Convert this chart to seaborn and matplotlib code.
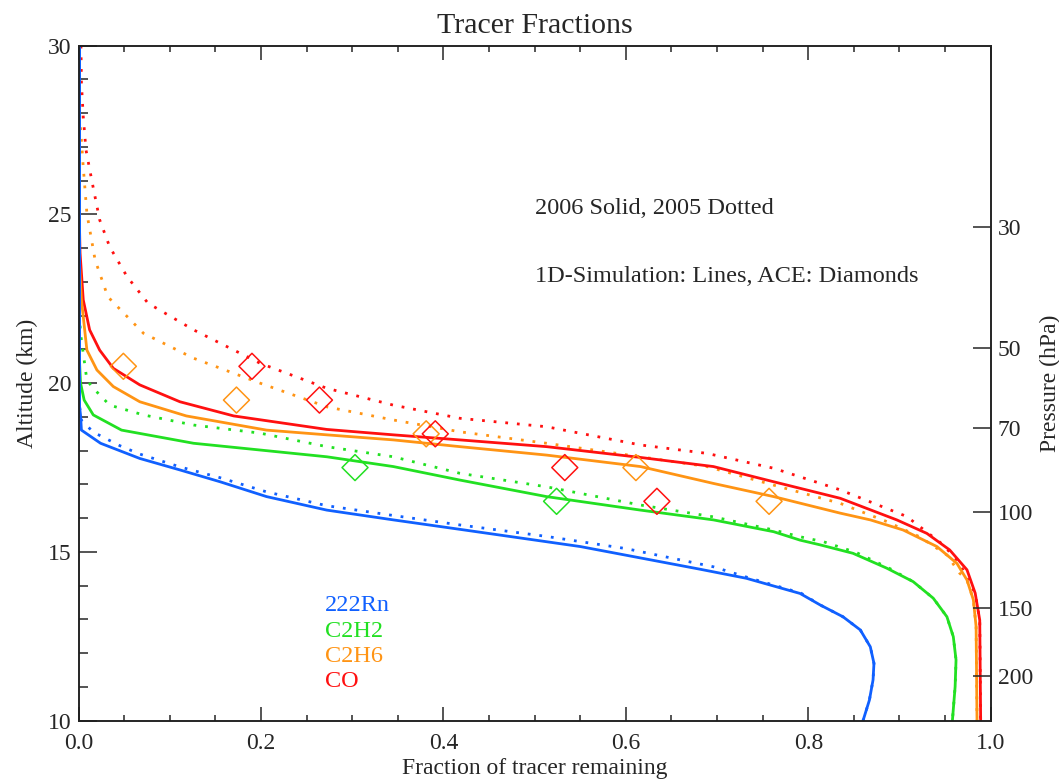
import numpy as np
import pandas as pd
import matplotlib
matplotlib.use("Agg")
import matplotlib.pyplot as plt
import seaborn as sns
from matplotlib.ticker import MultipleLocator

# ---- data (altitude in km, fraction remaining) ----
rn_2006_alt = [30.0, 19.3, 19.06, 18.61, 18.22, 17.77, 17.43, 17.08, 16.64, 16.24, 15.95,
               15.67, 15.16, 14.49, 14.22, 13.77, 13.43, 13.08, 12.69, 12.19, 11.70, 11.21,
               10.61, 10.0]
rn_2006_frac = [0.001, 0.001, 0.002, 0.003, 0.024, 0.067, 0.111, 0.155, 0.206, 0.272, 0.345,
                0.418, 0.550, 0.681, 0.732, 0.791, 0.813, 0.838, 0.857, 0.868, 0.872, 0.871,
                0.867, 0.860]
rn_2005_alt = [30.0, 19.3, 18.9, 18.55, 18.15, 17.9, 17.52, 17.2, 16.78, 16.37, 16.08,
               15.80, 15.46, 15.1, 14.56, 14.24, 13.78, 13.43, 13.08, 12.69, 12.19, 11.70,
               11.21, 10.61, 10.0]
rn_2005_frac = [0.001, 0.001, 0.003, 0.016, 0.045, 0.067, 0.111, 0.155, 0.206, 0.272, 0.345,
                0.418, 0.513, 0.600, 0.696, 0.734, 0.792, 0.813, 0.838, 0.857, 0.868, 0.872,
                0.871, 0.867, 0.860]

c2h2_2006_alt = [30.0, 20.6, 20.01, 19.50, 19.06, 18.61, 18.22, 18.02, 17.82, 17.53, 17.13,
                 16.64, 16.24, 15.95, 15.60, 15.35, 15.21, 14.96, 14.52, 14.12, 13.63, 13.08,
                 12.49, 11.80, 11.01, 10.0]
c2h2_2006_frac = [0.001, 0.001, 0.002, 0.006, 0.016, 0.047, 0.126, 0.199, 0.272, 0.345, 0.418,
                  0.513, 0.616, 0.696, 0.762, 0.791, 0.813, 0.849, 0.886, 0.915, 0.937, 0.952,
                  0.959, 0.962, 0.961, 0.958]
c2h2_2005_alt = [30.0, 22.0, 21.48, 20.09, 19.85, 19.35, 19.06, 18.76, 18.52, 18.12, 17.82,
                 17.33, 16.93, 16.39, 16.04, 15.65, 15.45, 15.30, 14.98, 14.50, 14.12, 13.63,
                 13.08, 12.49, 11.80, 11.01, 10.0]
c2h2_2005_frac = [0.001, 0.001, 0.002, 0.009, 0.016, 0.034, 0.071, 0.126, 0.199, 0.272, 0.345,
                  0.418, 0.513, 0.616, 0.696, 0.762, 0.791, 0.817, 0.853, 0.890, 0.915, 0.937,
                  0.952, 0.959, 0.962, 0.961, 0.958]

c2h6_2006_alt = [30.0, 23.5, 22.47, 20.98, 20.39, 19.90, 19.45, 19.03, 18.61, 18.47, 18.32,
                 18.12, 17.87, 17.53, 17.03, 16.64, 16.15, 15.95, 15.65, 15.16, 14.66, 14.17,
                 13.58, 12.79, 10.0]
c2h6_2006_frac = [0.001, 0.001, 0.003, 0.009, 0.020, 0.038, 0.067, 0.118, 0.206, 0.272, 0.345,
                  0.418, 0.513, 0.616, 0.696, 0.762, 0.835, 0.868, 0.904, 0.941, 0.963, 0.974,
                  0.981, 0.984, 0.985]
c2h6_2005_alt = [30.0, 29.0, 28.0, 26.41, 25.03, 23.65, 22.56, 21.48, 20.74, 20.0, 19.30,
                 18.91, 18.56, 18.22, 17.82, 17.53, 16.98, 16.44, 15.90, 15.45, 14.91, 14.37,
                 14.17, 13.58, 12.79, 10.0]
c2h6_2005_frac = [0.0, 0.0005, 0.001, 0.005, 0.009, 0.018, 0.032, 0.071, 0.126, 0.199, 0.272,
                  0.345, 0.418, 0.513, 0.616, 0.689, 0.762, 0.835, 0.886, 0.922, 0.952, 0.966,
                  0.974, 0.981, 0.984, 0.985]

co_2006_alt = [30.0, 24.5, 23.86, 22.47, 21.58, 20.98, 20.44, 19.95, 19.45, 19.03, 18.63,
               18.47, 18.32, 18.12, 17.80, 17.53, 17.08, 16.59, 15.95, 15.55, 15.06, 14.47,
               13.78, 12.98, 10.0]
co_2006_frac = [0.001, 0.001, 0.0015, 0.005, 0.012, 0.023, 0.038, 0.067, 0.111, 0.170, 0.272,
                0.345, 0.418, 0.513, 0.616, 0.696, 0.762, 0.835, 0.897, 0.930, 0.955, 0.974,
                0.983, 0.988, 0.989]
co_2005_alt = [30.0, 28.89, 27.90, 26.91, 25.92, 24.84, 24.04, 23.16, 22.37, 21.58, 20.59,
               19.85, 19.35, 18.96, 18.71, 18.17, 17.92, 17.48, 16.84, 16.05, 15.21, 14.66,
               14.07, 13.78, 12.98, 10.0]
co_2005_frac = [0.0025, 0.003, 0.005, 0.008, 0.015, 0.023, 0.034, 0.053, 0.076, 0.126, 0.199,
                0.272, 0.345, 0.418, 0.513, 0.616, 0.689, 0.762, 0.835, 0.908, 0.948, 0.966,
                0.977, 0.983, 0.988, 0.989]

# ACE observations (diamonds)
ace_alt = [20.5, 19.5, 18.5, 17.5, 16.5]
ace_c2h6 = [0.049, 0.173, 0.381, 0.611, 0.757]
ace_co = [0.190, 0.264, 0.391, 0.533, 0.634]
ace_c2h2_alt = [17.5, 16.5]
ace_c2h2 = [0.303, 0.524]

pressure_levels = [30, 50, 70, 100, 150, 200]

tracers = ["222Rn", "C2H2", "C2H6", "CO"]
colors = {"222Rn": "#1060ff", "C2H2": "#22e022", "C2H6": "#ff9414", "CO": "#ff1010"}

rows = []
series = {
    ("222Rn", "2006"): (rn_2006_frac, rn_2006_alt),
    ("222Rn", "2005"): (rn_2005_frac, rn_2005_alt),
    ("C2H2", "2006"): (c2h2_2006_frac, c2h2_2006_alt),
    ("C2H2", "2005"): (c2h2_2005_frac, c2h2_2005_alt),
    ("C2H6", "2006"): (c2h6_2006_frac, c2h6_2006_alt),
    ("C2H6", "2005"): (c2h6_2005_frac, c2h6_2005_alt),
    ("CO", "2006"): (co_2006_frac, co_2006_alt),
    ("CO", "2005"): (co_2005_frac, co_2005_alt),
}
for (tr, yr), (fr, al) in series.items():
    for i in range(len(fr)):
        rows.append({"tracer": tr, "year": yr, "fraction": fr[i], "altitude": al[i]})
df = pd.DataFrame(rows)

sns.set_style("white")
plt.rcParams["font.family"] = ["Liberation Serif", "DejaVu Serif"]

fig = plt.figure(figsize=(10.59, 7.81), dpi=100)
ax = fig.add_axes([0.0743, 0.0772, 0.9355 - 0.0743, 0.9415 - 0.0772])

# dotted (2005) first so the solid 2006 lines sit on top; blue drawn last
for yr, dash in [("2005", (0, (1, 3.2))), ("2006", "-")]:
    for tr in tracers[::-1]:
        sub = df[(df["tracer"] == tr) & (df["year"] == yr)]
        sns.lineplot(data=sub, x="fraction", y="altitude", sort=False, estimator=None,
                     color=colors[tr], linewidth=2.0, ax=ax, legend=False)
        ax.lines[-1].set_linestyle(dash)

sns.scatterplot(x=ace_c2h6, y=ace_alt, marker="D", s=175, facecolor="none",
                edgecolor=colors["C2H6"], linewidth=1.1, ax=ax, zorder=5)
sns.scatterplot(x=ace_co, y=ace_alt, marker="D", s=175, facecolor="none",
                edgecolor=colors["CO"], linewidth=1.1, ax=ax, zorder=5)
sns.scatterplot(x=ace_c2h2, y=ace_c2h2_alt, marker="D", s=175, facecolor="none",
                edgecolor=colors["C2H2"], linewidth=1.1, ax=ax, zorder=5)

ax.set_xlim(0, 1)
ax.set_ylim(10, 30)
ax.xaxis.set_major_locator(MultipleLocator(0.2))
ax.xaxis.set_minor_locator(MultipleLocator(0.05))
ax.yaxis.set_major_locator(MultipleLocator(5))
ax.yaxis.set_minor_locator(MultipleLocator(1))
ax.set_xticklabels([f"{v:.1f}" for v in ax.get_xticks()])
ax.tick_params(axis="x", which="major", direction="in", length=10, width=1.1,
               top=True, bottom=True, labelsize=17, pad=9)
ax.tick_params(axis="x", which="minor", direction="in", length=4.5, width=1.1,
               top=True, bottom=True)
ax.tick_params(axis="y", which="major", direction="in", length=13, width=1.1,
               left=True, right=False, labelsize=17, pad=5)
ax.tick_params(axis="y", which="minor", direction="in", length=6.5, width=1.1,
               left=True, right=False)
for sp in ax.spines.values():
    sp.set_linewidth(1.1)
    sp.set_color("black")

ax.set_xlabel("Fraction of tracer remaining", fontsize=17, labelpad=3)
ax.set_ylabel("Altitude (km)", fontsize=17, labelpad=7)
ax.set_title("Tracer Fractions", fontsize=21.5, pad=9)

# pressure axis on the right (scale height ~7 km, 100 hPa at 16.19 km)
ax2 = ax.twinx()
ax2.set_ylim(10, 30)
p_alt = [16.19 - 7.0 * np.log(p / 100.0) for p in pressure_levels]
ax2.set_yticks(p_alt)
ax2.set_yticklabels([str(p) for p in pressure_levels])
ax2.tick_params(axis="y", direction="in", length=13, width=1.1, labelsize=17, pad=5)
ax2.set_ylabel("Pressure (hPa)", fontsize=17, labelpad=5)
for sp in ax2.spines.values():
    sp.set_linewidth(1.1)

ax.text(0.5, 25.0, "2006 Solid, 2005 Dotted", fontsize=17.5, va="baseline", ha="left")
ax.text(0.5, 23.0, "1D-Simulation: Lines, ACE: Diamonds", fontsize=17.5, va="baseline", ha="left")

legend_alt = [13.24, 12.47, 11.73, 10.99]
for tr, a in zip(tracers, legend_alt):
    ax.text(0.27, a, tr, color=colors[tr], fontsize=17.5, va="baseline", ha="left")

fig.savefig("out.png", dpi=100)
